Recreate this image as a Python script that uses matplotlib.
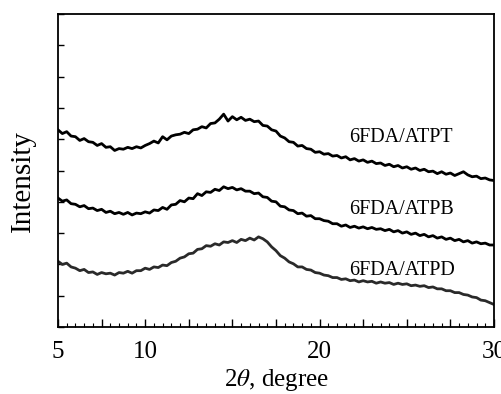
import numpy as np
import matplotlib.pyplot as plt

plt.rcParams['font.family'] = 'Liberation Serif'
plt.rcParams['mathtext.fontset'] = 'stix'

# --- Data (y in tick units) ---
two_theta = np.arange(5, 30.01, 0.25)

atpt = [6.30, 6.18, 6.24, 6.10, 6.08, 5.96, 6.02, 5.92, 5.90, 5.80, 5.86, 5.74,
        5.76, 5.64, 5.70, 5.68, 5.74, 5.70, 5.76, 5.72, 5.80, 5.86, 5.94, 5.88,
        6.08, 5.98, 6.10, 6.14, 6.16, 6.22, 6.18, 6.30, 6.32, 6.40, 6.36, 6.50,
        6.52, 6.64, 6.80, 6.58, 6.72, 6.62, 6.70, 6.60, 6.64, 6.56, 6.58, 6.44,
        6.42, 6.30, 6.26, 6.10, 6.04, 5.92, 5.90, 5.78, 5.80, 5.70, 5.68, 5.58,
        5.60, 5.52, 5.54, 5.46, 5.48, 5.40, 5.44, 5.34, 5.38, 5.30, 5.34, 5.26,
        5.30, 5.22, 5.24, 5.16, 5.20, 5.12, 5.16, 5.08, 5.12, 5.04, 5.08, 5.00,
        5.04, 4.96, 4.98, 4.90, 4.96, 4.88, 4.92, 4.84, 4.90, 4.96, 4.86, 4.80,
        4.82, 4.74, 4.76, 4.70, 4.68]

atpb = [4.12, 4.02, 4.06, 3.94, 3.92, 3.84, 3.88, 3.78, 3.80, 3.72, 3.76, 3.66,
        3.70, 3.62, 3.66, 3.60, 3.66, 3.58, 3.64, 3.62, 3.68, 3.64, 3.74, 3.72,
        3.82, 3.76, 3.90, 3.92, 4.04, 4.00, 4.12, 4.10, 4.26, 4.20, 4.32, 4.30,
        4.40, 4.36, 4.48, 4.42, 4.46, 4.38, 4.42, 4.34, 4.34, 4.26, 4.28, 4.16,
        4.14, 4.02, 4.00, 3.86, 3.84, 3.74, 3.72, 3.62, 3.64, 3.54, 3.56, 3.46,
        3.46, 3.40, 3.38, 3.30, 3.30, 3.22, 3.26, 3.18, 3.22, 3.16, 3.20, 3.14,
        3.18, 3.12, 3.14, 3.08, 3.12, 3.04, 3.08, 3.00, 3.04, 2.96, 3.00, 2.92,
        2.96, 2.88, 2.92, 2.84, 2.88, 2.80, 2.84, 2.76, 2.80, 2.72, 2.76, 2.68,
        2.72, 2.66, 2.68, 2.62, 2.62]

atpd = [2.10, 2.00, 2.04, 1.92, 1.88, 1.80, 1.84, 1.74, 1.76, 1.68, 1.74, 1.70,
        1.72, 1.66, 1.74, 1.72, 1.78, 1.72, 1.80, 1.80, 1.88, 1.84, 1.92, 1.90,
        1.98, 1.96, 2.06, 2.10, 2.20, 2.24, 2.34, 2.36, 2.48, 2.50, 2.60, 2.58,
        2.66, 2.62, 2.72, 2.70, 2.76, 2.70, 2.80, 2.76, 2.84, 2.78, 2.88, 2.82,
        2.72, 2.56, 2.44, 2.28, 2.20, 2.08, 2.02, 1.92, 1.92, 1.84, 1.82, 1.74,
        1.72, 1.66, 1.64, 1.58, 1.58, 1.52, 1.54, 1.48, 1.50, 1.44, 1.48, 1.44,
        1.46, 1.40, 1.44, 1.40, 1.42, 1.36, 1.40, 1.36, 1.38, 1.32, 1.34, 1.30,
        1.32, 1.26, 1.28, 1.22, 1.22, 1.16, 1.16, 1.10, 1.10, 1.04, 1.02, 0.96,
        0.94, 0.86, 0.84, 0.78, 0.72]

labels = ['6FDA/ATPT', '6FDA/ATPB', '6FDA/ATPD']
label_y = [6.04, 3.74, 1.82]

# --- Plot ---
fig = plt.figure(figsize=(5.02, 3.94), dpi=100)
ax = fig.add_axes([0.1155, 0.170, 0.8685, 0.7945])

ax.plot(two_theta, atpt, color='black', lw=2.0)
ax.plot(two_theta, atpb, color='black', lw=2.0)
ax.plot(two_theta, atpd, color='#2a2a2a', lw=2.0)

for lab, ly in zip(labels, label_y):
    ax.text(21.7, ly, lab, fontsize=14.5, ha='left', va='center')

ax.set_xlim(5, 30)
ax.set_ylim(0, 10)
ax.set_xticks(np.arange(5, 30.1, 2.5))
ax.set_xticklabels(['5', '', '10', '', '', '', '20', '', '', '', '30'])
ax.set_xticks(np.arange(5, 30.1, 0.5), minor=True)
ax.set_yticks(np.arange(0, 10.1, 1))
ax.set_yticklabels([])

ax.tick_params(axis='both', which='both', direction='in', top=False, right=False)
ax.tick_params(axis='x', which='major', length=6, width=1, labelsize=18, pad=10)
ax.tick_params(axis='x', which='minor', length=3, width=0.8)
ax.tick_params(axis='y', which='major', length=4, width=1)

for sp in ax.spines.values():
    sp.set_linewidth(1.3)

ax.set_xlabel(r'2$\theta$, degree', fontsize=18, labelpad=3)
ax.set_ylabel('Intensity', fontsize=21)
ax.yaxis.set_label_coords(-0.050, 0.468)

fig.savefig('out.png', dpi=100)
